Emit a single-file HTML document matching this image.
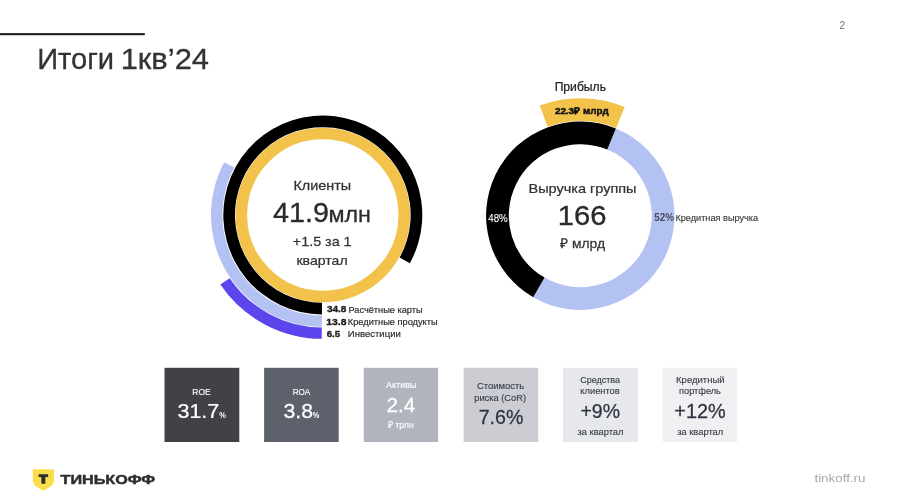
<!DOCTYPE html>
<html lang="ru">
<head>
<meta charset="utf-8">
<title>Итоги 1кв’24</title>
<style>
html,body{margin:0;padding:0;background:#fff;}
body{width:900px;height:502px;overflow:hidden;position:relative;font-family:"Liberation Sans",sans-serif;}
svg{position:absolute;left:0;top:0;display:block;}
text{font-family:"Liberation Sans",sans-serif;}
.b{font-weight:bold;}
</style>
</head>
<body>
<svg width="900" height="502" viewBox="0 0 900 502">
<rect width="900" height="502" fill="#ffffff"/>
<!-- header -->
<rect x="0" y="33.1" width="144.8" height="2.1" fill="#1c1c1c"/>

<!-- left chart -->
<circle cx="322.8" cy="215.0" r="81.525" fill="none" stroke="#f2c24b" stroke-width="11.649999999999991"/>
<path d="M321.93 314.50A99.5 99.5 0 1 1 409.83 263.23L399.64 257.59A87.85 87.85 0 1 0 322.03 302.85Z" fill="#000000"/>
<path d="M321.82 326.80A111.8 111.8 0 0 1 224.24 162.22L234.29 167.61A100.4 100.4 0 0 0 321.92 315.40Z" fill="#b3c1f3"/>
<path d="M321.72 338.80A123.8 123.8 0 0 1 220.35 284.50L229.70 278.16A112.5 112.5 0 0 0 321.82 327.50Z" fill="#5b45ec"/>
<!-- legend -->

<!-- right chart -->
<path d="M615.89 128.48A94.2 94.2 0 1 1 533.20 297.28L544.55 277.62A71.5 71.5 0 1 0 607.32 149.50Z" fill="#b3c1f3"/>
<path d="M533.20 297.28A94.2 94.2 0 0 1 615.89 128.48L607.32 149.50A71.5 71.5 0 0 0 544.55 277.62Z" fill="#000000"/>
<path d="M539.76 105.52A117.4 117.4 0 0 1 624.66 107.00L616.12 127.93A94.8 94.8 0 0 0 547.57 126.73Z" fill="#f2c24b"/>

<!-- cards -->
<rect x="164.5" y="367.8" width="74.8" height="74.2" fill="#404248"/>
<rect x="264.1" y="367.8" width="74.6" height="74.2" fill="#5d616b"/>
<rect x="363.8" y="367.8" width="74.3" height="74.2" fill="#b1b4bc"/>
<rect x="463.6" y="367.8" width="74.6" height="74.2" fill="#cbcdd2"/>
<rect x="563" y="367.8" width="74.7" height="74.2" fill="#e7e8eb"/>
<rect x="662.7" y="367.8" width="74.5" height="74.2" fill="#f0f0f2"/>







<!-- footer -->
<path d="M32.8 469.3H53.9V480.5C53.9 484.5 50 487.5 43.35 490.7C36.7 487.5 32.8 484.5 32.8 480.5Z" fill="#fadc4c"/>
<text transform="translate(37.14 69.3) scale(1.0041 1)" font-size="29" fill="#333333" stroke="#333333" stroke-width="0.3" stroke-linejoin="miter">Итоги</text>
<text transform="translate(120.67 69.3) scale(1.0654 1)" font-size="29" fill="#333333" stroke="#333333" stroke-width="0.3" stroke-linejoin="miter">1кв’24</text>
<text transform="translate(839.49 29.2) scale(1.0222 1)" font-size="10" fill="#6f7278">2</text>
<text transform="translate(293.44 190.3) scale(1.0578 1)" font-size="13.6" fill="#333333" stroke="#333333" stroke-width="0.25" stroke-linejoin="miter">Клиенты</text>
<text transform="translate(273.07 221.8) scale(1.0647 1)" font-size="27" fill="#2b2b2b" stroke="#2b2b2b" stroke-width="0.3" stroke-linejoin="miter">41.9</text>
<text transform="translate(328.44 221.8) scale(1.0379 1)" font-size="22.5" fill="#2b2b2b" stroke="#2b2b2b" stroke-width="0.3" stroke-linejoin="miter">млн</text>
<text transform="translate(292.87 246.3) scale(1.0698 1)" font-size="13.4" fill="#333333" stroke="#333333" stroke-width="0.25" stroke-linejoin="miter">+1.5 за 1</text>
<text transform="translate(296.42 264.5) scale(1.0366 1)" font-size="13.6" fill="#333333" stroke="#333333" stroke-width="0.25" stroke-linejoin="miter">квартал</text>
<text transform="translate(326.90 312.4) scale(1.0685 1)" font-size="9.4" fill="#1e1e1e" font-weight="bold" stroke="#1e1e1e" stroke-width="0.35" stroke-linejoin="miter">34.8</text>
<text transform="translate(348.49 312.5) scale(0.9406 1)" font-size="9.8" fill="#2e2e2e" stroke="#2e2e2e" stroke-width="0.2" stroke-linejoin="miter">Расчётные карты</text>
<text transform="translate(326.35 324.9) scale(1.0986 1)" font-size="9.4" fill="#1e1e1e" font-weight="bold" stroke="#1e1e1e" stroke-width="0.35" stroke-linejoin="miter">13.8</text>
<text transform="translate(347.79 325) scale(0.9457 1)" font-size="9.8" fill="#2e2e2e" stroke="#2e2e2e" stroke-width="0.2" stroke-linejoin="miter">Кредитные продукты</text>
<text transform="translate(326.64 337.1) scale(1.0353 1)" font-size="9.4" fill="#1e1e1e" font-weight="bold" stroke="#1e1e1e" stroke-width="0.35" stroke-linejoin="miter">6.5</text>
<text transform="translate(347.77 337.2) scale(0.9774 1)" font-size="9.8" fill="#2e2e2e" stroke="#2e2e2e" stroke-width="0.2" stroke-linejoin="miter">Инвестиции</text>
<text transform="translate(554.65 91.1) scale(0.9479 1)" font-size="12.8" fill="#222222" stroke="#222222" stroke-width="0.25" stroke-linejoin="miter">Прибыль</text>
<text transform="translate(554.90 113.9) scale(1.0741 1)" font-size="9.2" fill="#111111" font-weight="bold" stroke="#111111" stroke-width="0.45" stroke-linejoin="miter">22.3₽ млрд</text>
<text transform="translate(528.53 192.6) scale(1.0653 1)" font-size="13.6" fill="#333333" stroke="#333333" stroke-width="0.25" stroke-linejoin="miter">Выручка группы</text>
<text transform="translate(557.74 224.6) scale(1.0810 1)" font-size="27" fill="#2b2b2b" stroke="#2b2b2b" stroke-width="0.3" stroke-linejoin="miter">166</text>
<text transform="translate(559.90 248.2) scale(1.0260 1)" font-size="13.6" fill="#333333" stroke="#333333" stroke-width="0.25" stroke-linejoin="miter">₽ млрд</text>
<text transform="translate(488.26 221.6) scale(0.9450 1)" font-size="10.3" fill="#ffffff" stroke="#ffffff" stroke-width="0.1" stroke-linejoin="miter">48%</text>
<text transform="translate(654.21 221.4) scale(0.9870 1)" font-size="10" fill="#474b5a" font-weight="bold">52%</text>
<text transform="translate(675.38 221.4) scale(0.9558 1)" font-size="9.6" fill="#3a3a3a" stroke="#3a3a3a" stroke-width="0.15" stroke-linejoin="miter">Кредитная выручка</text>
<text transform="translate(192.33 394.8) scale(0.8872 1)" font-size="9.5" fill="#ffffff" stroke="#ffffff" stroke-width="0.15" stroke-linejoin="miter">ROE</text>
<text transform="translate(177.42 418) scale(1.0348 1)" font-size="20.8" fill="#ffffff" stroke="#ffffff" stroke-width="0.25" stroke-linejoin="miter">31.7</text>
<text transform="translate(219.19 418) scale(0.8400 1)" font-size="9" fill="#ffffff" font-weight="bold">%</text>
<text transform="translate(292.66 394.8) scale(0.8557 1)" font-size="9.5" fill="#ffffff" stroke="#ffffff" stroke-width="0.15" stroke-linejoin="miter">ROA</text>
<text transform="translate(283.43 418) scale(1.0218 1)" font-size="20.8" fill="#ffffff" stroke="#ffffff" stroke-width="0.25" stroke-linejoin="miter">3.8</text>
<text transform="translate(312.79 418) scale(0.8267 1)" font-size="9" fill="#ffffff" font-weight="bold">%</text>
<text transform="translate(386.00 388.1) scale(0.9437 1)" font-size="9.6" fill="#ffffff" stroke="#ffffff" stroke-width="0.15" stroke-linejoin="miter">Активы</text>
<text transform="translate(386.51 412.2) scale(0.9910 1)" font-size="21" fill="#ffffff" stroke="#ffffff" stroke-width="0.25" stroke-linejoin="miter">2.4</text>
<text transform="translate(387.90 428.2) scale(0.9228 1)" font-size="9.6" fill="#ffffff" stroke="#ffffff" stroke-width="0.15" stroke-linejoin="miter">₽ трлн</text>
<text transform="translate(476.91 389.1) scale(0.9841 1)" font-size="9.6" fill="#3a3e4a" stroke="#3a3e4a" stroke-width="0.15" stroke-linejoin="miter">Стоимость</text>
<text transform="translate(474.22 400.5) scale(0.9695 1)" font-size="9.6" fill="#3a3e4a" stroke="#3a3e4a" stroke-width="0.15" stroke-linejoin="miter">риска (CoR)</text>
<text transform="translate(478.66 424) scale(0.9443 1)" font-size="20.8" fill="#2f3340" stroke="#2f3340" stroke-width="0.25" stroke-linejoin="miter">7.6%</text>
<text transform="translate(580.33 382.6) scale(0.9333 1)" font-size="9.6" fill="#3a3e4a" stroke="#3a3e4a" stroke-width="0.15" stroke-linejoin="miter">Средства</text>
<text transform="translate(580.31 394.4) scale(0.9711 1)" font-size="9.6" fill="#3a3e4a" stroke="#3a3e4a" stroke-width="0.15" stroke-linejoin="miter">клиентов</text>
<text transform="translate(580.46 418) scale(0.9383 1)" font-size="20.8" fill="#2f3340" stroke="#2f3340" stroke-width="0.25" stroke-linejoin="miter">+9%</text>
<text transform="translate(577.56 434.5) scale(0.9720 1)" font-size="9.6" fill="#3a3e4a" stroke="#3a3e4a" stroke-width="0.15" stroke-linejoin="miter">за квартал</text>
<text transform="translate(676.06 382.6) scale(0.9916 1)" font-size="9.6" fill="#3a3e4a" stroke="#3a3e4a" stroke-width="0.15" stroke-linejoin="miter">Кредитный</text>
<text transform="translate(679.02 394.4) scale(0.9637 1)" font-size="9.6" fill="#3a3e4a" stroke="#3a3e4a" stroke-width="0.15" stroke-linejoin="miter">портфель</text>
<text transform="translate(674.34 418) scale(0.9558 1)" font-size="20.8" fill="#2f3340" stroke="#2f3340" stroke-width="0.25" stroke-linejoin="miter">+12%</text>
<text transform="translate(677.16 434.5) scale(0.9763 1)" font-size="9.6" fill="#3a3e4a" stroke="#3a3e4a" stroke-width="0.15" stroke-linejoin="miter">за квартал</text>
<text transform="translate(39.43 482.9) scale(1.2387 1)" font-size="10.2" fill="#2e2e2e" font-weight="bold" stroke="#2e2e2e" stroke-width="1.7" stroke-linejoin="miter">Т</text>
<text transform="translate(60.50 483.7) scale(1.3486 1)" font-size="12" fill="#2e2e2e" font-weight="bold" stroke="#2e2e2e" stroke-width="0.45" stroke-linejoin="miter">ТИНЬКОФФ</text>
<text transform="translate(814.41 481.6) scale(1.1561 1)" font-size="11.6" fill="#a8a8a8">tinkoff.ru</text>
</svg>
</body>
</html>
